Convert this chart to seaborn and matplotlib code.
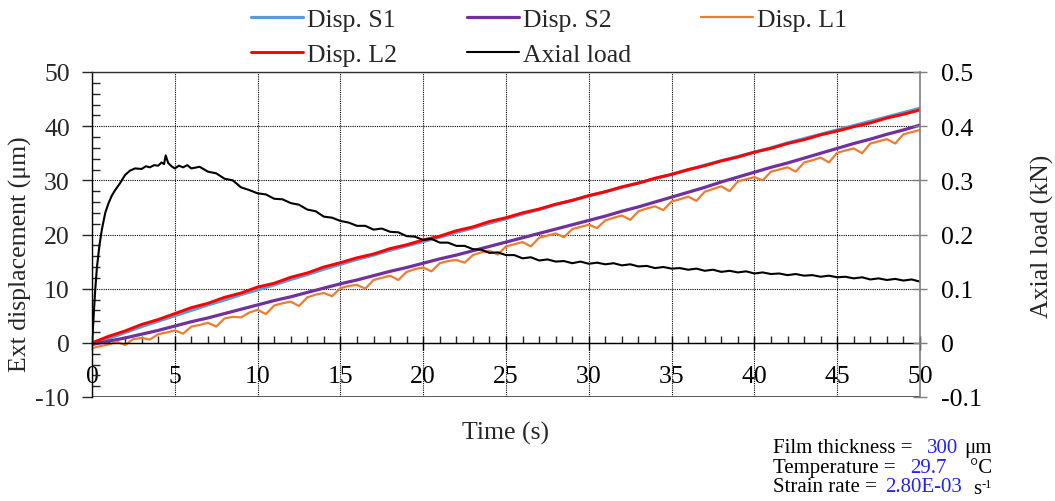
import numpy as np
import matplotlib
matplotlib.use("Agg")
import matplotlib.pyplot as plt
from matplotlib.ticker import MultipleLocator, FixedLocator
import seaborn as sns

# --- data ---
time_1s = np.arange(0, 51, 1)      # sampling grid for S1 / S2 / L2
time_05s = np.arange(0, 50.5, 0.5)  # sampling grid for L1

disp_s1 = [-0.3, 0.8, 1.9, 3.0, 4.0, 5.0, 6.0, 7.0, 7.9, 8.9,
           9.8, 10.7, 11.7, 12.6, 13.6, 14.5, 15.4, 16.2, 17.1, 17.9,
           18.7, 19.5, 20.4, 21.2, 22.1, 22.9, 23.8, 24.6, 25.5, 26.3,
           27.1, 27.9, 28.7, 29.5, 30.3, 31.1, 31.9, 32.8, 33.6, 34.4,
           35.2, 36.0, 36.9, 37.7, 38.5, 39.3, 40.1, 40.9, 41.7, 42.5,
           43.3]
disp_s2 = [-0.3, 0.3, 0.9, 1.6, 2.3, 3.1, 3.9, 4.6, 5.4, 6.2,
           7.0, 7.8, 8.5, 9.3, 10.1, 10.9, 11.6, 12.4, 13.2, 13.9,
           14.7, 15.5, 16.2, 17.0, 17.8, 18.6, 19.4, 20.2, 21.0, 21.8,
           22.6, 23.4, 24.3, 25.1, 26.0, 26.9, 27.8, 28.7, 29.7, 30.6,
           31.5, 32.4, 33.2, 34.1, 35.0, 35.9, 36.8, 37.6, 38.5, 39.3,
           40.2]
disp_l2 = [0.0, 1.2, 2.2, 3.4, 4.3, 5.4, 6.5, 7.3, 8.4, 9.2,
           10.3, 11.0, 12.1, 12.9, 14.0, 14.8, 15.7, 16.4, 17.4, 18.1,
           19.0, 19.7, 20.7, 21.4, 22.4, 23.1, 24.0, 24.7, 25.6, 26.3,
           27.2, 27.9, 28.8, 29.5, 30.4, 31.1, 32.0, 32.7, 33.6, 34.3,
           35.2, 35.9, 36.8, 37.5, 38.4, 39.1, 39.9, 40.6, 41.5, 42.2,
           43.0]
disp_l1 = [-1.0, -0.6, -0.3, 0.2, -0.4, 0.7, 0.9, 0.6, 1.6, 1.9,
           2.3, 1.7, 3.0, 3.3, 3.7, 3.0, 4.5, 4.8, 4.7, 5.6,
           6.1, 5.3, 6.9, 7.3, 7.6, 6.8, 8.4, 8.9, 9.2, 8.6,
           10.1, 10.5, 10.7, 10.0, 11.6, 12.0, 12.4, 11.6, 13.1, 13.6,
           13.9, 13.2, 14.7, 15.1, 15.3, 14.8, 16.2, 16.7, 17.0, 16.3,
           17.8, 18.2, 18.6, 17.8, 19.4, 19.8, 20.2, 19.5, 21.0, 21.4,
           21.8, 21.2, 22.6, 23.1, 23.5, 22.7, 24.3, 24.8, 25.2, 24.5,
           26.1, 26.5, 27.0, 26.2, 27.9, 28.4, 28.9, 28.0, 29.8, 30.2,
           30.6, 30.0, 31.6, 32.0, 32.4, 31.6, 33.3, 33.7, 34.2, 33.3,
           35.1, 35.5, 35.9, 35.0, 36.8, 37.2, 37.6, 36.8, 38.5, 38.9,
           39.3]

load_time = [0, 0.1, 0.2, 0.3, 0.45, 0.6, 0.8, 1.0, 1.2, 1.4,
             1.7, 2.0, 2.3, 2.6, 3.0, 3.25, 3.5, 3.75, 4.0, 4.2,
             4.35, 4.45, 4.6, 4.8, 5.0, 5.25, 5.5, 5.75, 6.0, 6.5,
             7.0, 7.5, 8.0, 8.5, 9.0, 9.5, 10.0, 10.5, 11.0, 11.5,
             12.0, 12.5, 13.0, 13.5, 14.0, 14.5, 15.0, 15.5, 16.0, 16.5,
             17.0, 17.5, 18.0, 18.5, 19.0, 19.5, 20.0, 20.5, 21.0, 21.5,
             22.0, 22.5, 23.0, 23.5, 24.0, 24.5, 25.0, 25.5, 26.0, 26.5,
             27.0, 27.5, 28.0, 28.5, 29.0, 29.5, 30.0, 30.5, 31.0, 31.5,
             32.0, 32.5, 33.0, 33.5, 34.0, 34.5, 35.0, 35.5, 36.0, 36.5,
             37.0, 37.5, 38.0, 38.5, 39.0, 39.5, 40.0, 40.5, 41.0, 41.5,
             42.0, 42.5, 43.0, 43.5, 44.0, 44.5, 45.0, 45.5, 46.0, 46.5,
             47.0, 47.5, 48.0, 48.5, 49.0, 49.5, 50.0]
axial_load = [-0.005, 0.05, 0.10, 0.14, 0.18, 0.21, 0.24, 0.258, 0.272, 0.282,
              0.295, 0.31, 0.318, 0.322, 0.321, 0.326, 0.324, 0.328, 0.327, 0.333,
              0.330, 0.346, 0.332, 0.326, 0.322, 0.327, 0.324, 0.328, 0.322, 0.325,
              0.316, 0.313, 0.303, 0.300, 0.287, 0.282, 0.276, 0.274, 0.266, 0.265,
              0.258, 0.255, 0.246, 0.243, 0.233, 0.231, 0.225, 0.222, 0.216, 0.216,
              0.209, 0.211, 0.205, 0.204, 0.197, 0.196, 0.190, 0.192, 0.185, 0.185,
              0.179, 0.179, 0.173, 0.172, 0.166, 0.167, 0.162, 0.162, 0.156, 0.158,
              0.152, 0.154, 0.150, 0.151, 0.147, 0.150, 0.146, 0.148, 0.145, 0.147,
              0.143, 0.145, 0.141, 0.142, 0.138, 0.140, 0.137, 0.138, 0.135, 0.137,
              0.133, 0.135, 0.131, 0.133, 0.130, 0.132, 0.128, 0.130, 0.127, 0.128,
              0.125, 0.127, 0.124, 0.125, 0.122, 0.124, 0.121, 0.122, 0.119, 0.121,
              0.117, 0.119, 0.116, 0.118, 0.115, 0.117, 0.113]

left_ticks = [-10, 0, 10, 20, 30, 40, 50]
left_labels = ["-10", "0", "10", "20", "30", "40", "50"]
right_ticks = [-0.1, 0, 0.1, 0.2, 0.3, 0.4, 0.5]
right_labels = ["-0.1", "0", "0.1", "0.2", "0.3", "0.4", "0.5"]

# --- style ---
sns.set_style("white")
plt.rcParams["font.family"] = ["Liberation Serif", "DejaVu Serif"]
plt.rcParams["axes.unicode_minus"] = False
FS = 18.5

W, H = 1055, 502
fig = plt.figure(figsize=(W / 100, H / 100), dpi=100)
ax = fig.add_axes([92 / W, 1 - 398 / H, 828 / W, 325 / H])
ax2 = ax.twinx()

sns.lineplot(x=time_1s, y=disp_s1, ax=ax, color="#5B9BD5", linewidth=2.3, label="Disp. S1", legend=False)
sns.lineplot(x=time_1s, y=disp_s2, ax=ax, color="#7030A0", linewidth=2.3, label="Disp. S2", legend=False)
sns.lineplot(x=time_05s, y=disp_l1, ax=ax, color="#ED7D31", linewidth=1.6, label="Disp. L1", legend=False)
sns.lineplot(x=time_1s, y=disp_l2, ax=ax, color="#FF0000", linewidth=2.1, label="Disp. L2", legend=False)
sns.lineplot(x=load_time, y=axial_load, ax=ax2, color="black", linewidth=1.5, label="Axial load", legend=False)

# left axis
ax.set_xlim(0, 50)
ax.set_ylim(-10, 50)
ax.xaxis.set_major_locator(MultipleLocator(5))
ax.xaxis.set_minor_locator(MultipleLocator(1))
ax.yaxis.set_major_locator(FixedLocator(left_ticks))
ax.set_yticklabels(left_labels)
ax.yaxis.set_minor_locator(MultipleLocator(2))
ax.set_xlabel("")
ax.set_ylabel("")
ax.grid(True, which="major", color="black", linestyle=(0, (1, 1)), linewidth=0.8)

ax.spines["bottom"].set_position(("data", 0))
ax.spines["bottom"].set_color("black")
ax.spines["left"].set_color("black")
ax.spines["top"].set_color("#303030")
ax.spines["right"].set_visible(False)
for s in ["left", "bottom", "top"]:
    ax.spines[s].set_linewidth(1.0)
ax.axhline(-10, color="#404040", linewidth=1.2)

ax.tick_params(axis="x", which="major", direction="inout", length=10, width=1,
               labelsize=FS, pad=11, bottom=True, colors="black")
ax.tick_params(axis="x", which="minor", direction="in", length=5, width=1, bottom=True)
ax.tick_params(axis="y", which="major", direction="out", length=7, width=1,
               labelsize=FS, pad=9, left=True)
ax.tick_params(axis="y", which="minor", direction="in", length=6, width=1, left=True)

# right axis
ax2.set_ylim(-0.1, 0.5)
ax2.yaxis.set_major_locator(FixedLocator(right_ticks))
ax2.set_yticklabels(right_labels)
ax2.set_ylabel("")
ax2.grid(False)
for s in ["left", "bottom", "top"]:
    ax2.spines[s].set_visible(False)
ax2.spines["right"].set_color("#808080")
ax2.spines["right"].set_linewidth(1.2)
ax2.tick_params(axis="y", which="major", direction="inout", length=10, width=1,
                color="#808080", labelcolor="black", labelsize=FS, pad=10, right=True)

# axis titles
fig.text(20 / W, 1 - 254 / H, "Ext displacement (μm)", rotation=90,
         ha="center", va="center", fontsize=FS)
fig.text(1042 / W, 1 - 236 / H, "Axial load (kN)", rotation=90,
         ha="center", va="center", fontsize=FS)
fig.text(505 / W, 1 - 433 / H, "Time (s)", ha="center", va="center", fontsize=FS)

# legend, row-wise order
lines = {l.get_label(): l for l in ax.get_lines() + ax2.get_lines()}
order = ["Disp. S1", "Disp. L2", "Disp. S2", "Axial load", "Disp. L1"]
fig.legend([lines[k] for k in order], order, ncol=3, loc="center",
           bbox_to_anchor=(549 / W, 1 - 38 / H), frameon=False, fontsize=FS,
           handlelength=2.0, handletextpad=0.15, columnspacing=2.75, labelspacing=0.45)

# test conditions note
blue = "#2323EE"
NF = 15
def note(x, y, s, color="black", size=NF):
    fig.text(x / W, 1 - y / H, s, ha="left", va="center", fontsize=size, color=color)

note(773, 449, "Film thickness =")
note(927, 449, "300", blue)
note(964, 449, "μm")
note(773, 469, "Temperature =")
note(910, 469, "29.7", blue)
note(970, 469, "°C")
note(773, 488, "Strain rate =")
note(885, 488, "2.80E-03", blue)
note(973, 490, "s")
note(982, 485, "-1", size=9)

fig.savefig("out.png", dpi=100)
